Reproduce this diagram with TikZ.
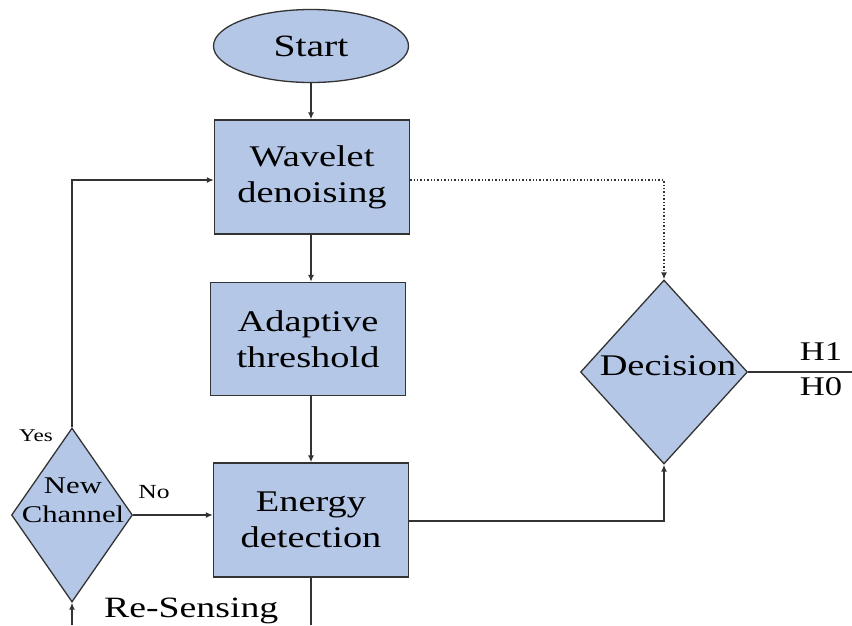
\documentclass[tikz,border=0pt]{standalone}
\usepackage{fontspec}
\setmainfont{Liberation Serif}[FakeStretch=1.28]
\usetikzlibrary{shapes.geometric,arrows.meta}
\definecolor{boxfill}{HTML}{B4C7E7}
\definecolor{edge}{HTML}{333333}
\begin{document}
\begin{tikzpicture}[x=1pt,y=-1pt,
  proc/.style={draw=edge,line width=1.3pt,fill=boxfill,rectangle,minimum width=195pt,minimum height=114pt,inner sep=0pt,align=center,font=\fontsize{30}{36}\selectfont},
  term/.style={draw=edge,line width=1.3pt,fill=boxfill,ellipse,minimum width=195pt,minimum height=73pt,inner sep=0pt,font=\fontsize{31}{36}\selectfont},
  decide/.style={draw=edge,line width=1.3pt,fill=boxfill,diamond,inner sep=0pt,align=center},
  conn/.style={draw=edge,line width=1.4pt},
  arr/.style={conn,-{Latex[length=7pt,width=6pt]}},
  lbl/.style={inner sep=0pt}]
\useasboundingbox (0,0) rectangle (852,625);
\clip (0,0) rectangle (852,625);
\node[term] (start) at (311,46) {Start};
\node[proc] (wav) at (312,177) {Wavelet\\denoising};
\node[proc,minimum height=113pt] (ada) at (308,339) {Adaptive\\threshold};
\node[proc] (en) at (311,520) {Energy\\detection};
\node[decide,minimum width=167pt,minimum height=184pt] (dec) at (664,372) {};
\node[lbl,font=\fontsize{30}{36}\selectfont] (dect) at (668,366) {Decision};
\node[decide,minimum width=121pt,minimum height=174pt] (nc) at (72,515) {};
\node[lbl,align=center,font=\fontsize{24}{29}\selectfont] (nct) at (73,500) {New\\Channel};
\coordinate (hout) at (852,372);
\coordinate (rsdown) at (311,625);
\coordinate (rsup) at (72,625);
\draw[arr] (start) -- (start|-wav.north);
\draw[arr] (wav.south-|start) -- (start|-ada.north);
\draw[arr] (ada.south-|start) -- (start|-en.north);
\draw[arr] ([yshift=-1pt]en.east) -| (dec.south);
\draw[arr,dotted] ([yshift=-3pt]wav.east) -| (dec.north);
\draw[conn] (dec.east) -- (hout);
\node[lbl,font=\fontsize{27}{30}\selectfont] (h1) at (821,352) {H1};
\node[lbl,font=\fontsize{27}{30}\selectfont] (h0) at (821,387) {H0};
\draw[arr] (nc.north) |- ([yshift=-3pt]wav.west);
\draw[arr] (nc.east) -- (nc.east -| en.west);
\node[lbl,font=\fontsize{18}{22}\selectfont] (yes) at (36,436) {Yes};
\node[lbl,font=\fontsize{20}{22}\selectfont] (no) at (154,492) {No};
\draw[conn] (en.south-|start) -- (rsdown);
\draw[arr] (rsup) -- (nc.south);
\node[lbl,anchor=base west,font=\fontsize{29.5}{34}\selectfont] (rs) at (104,617) {Re-Sensing};
\end{tikzpicture}
\end{document}
